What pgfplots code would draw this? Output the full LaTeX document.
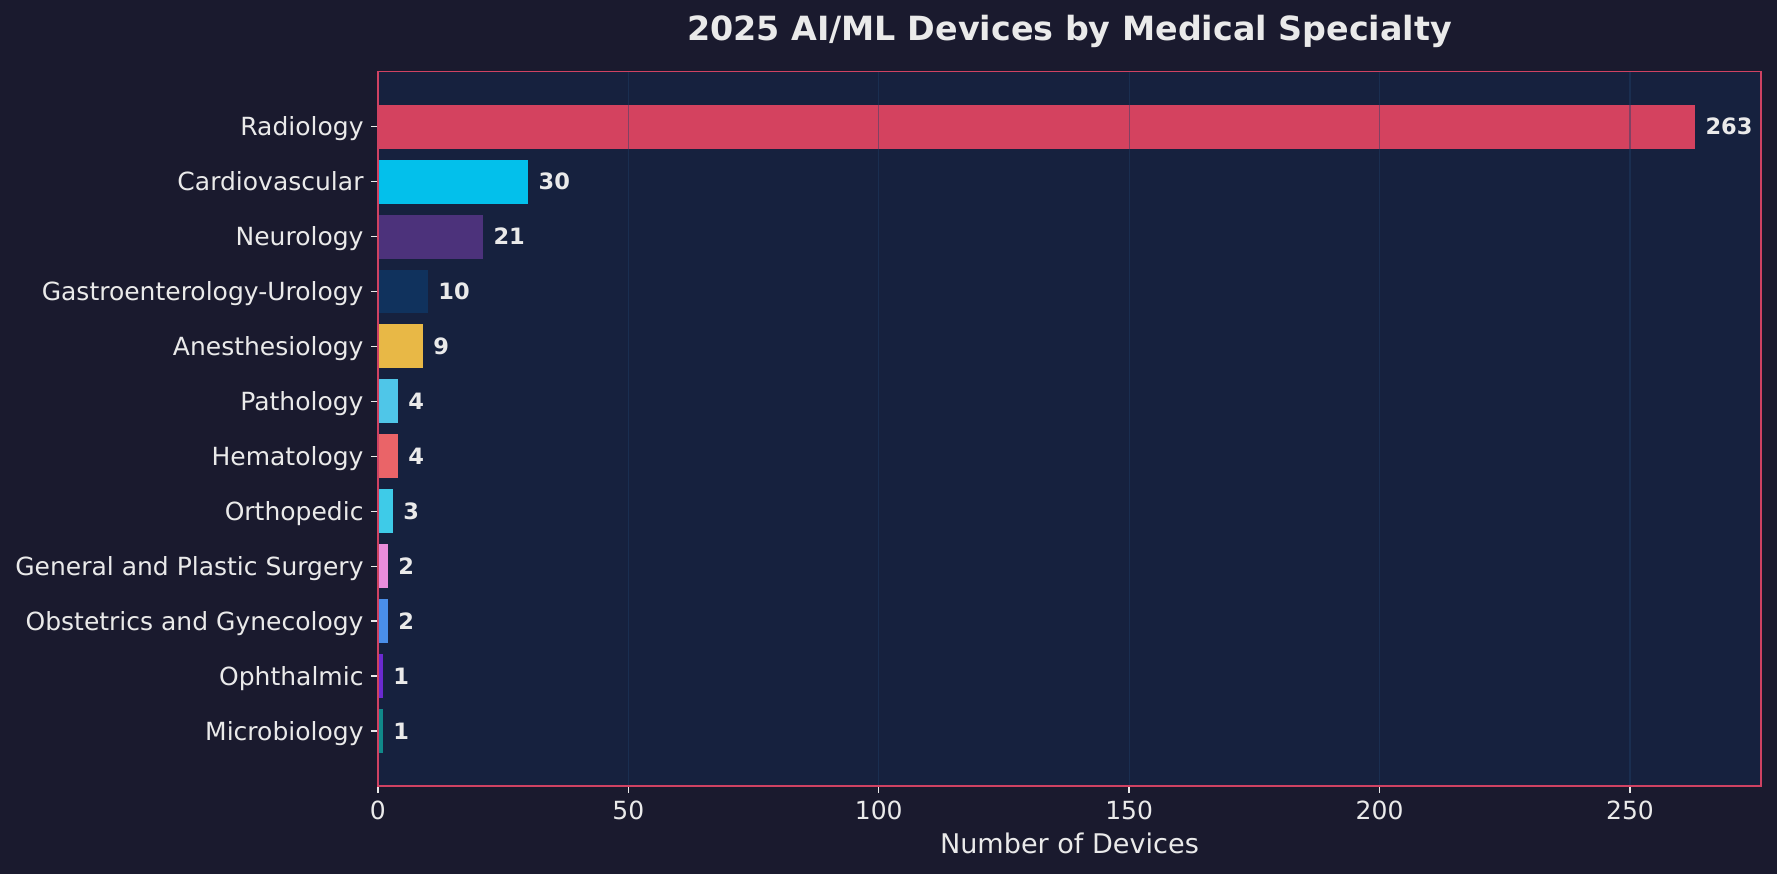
\documentclass[border=0pt]{standalone}
\usepackage{pgfplots}
\pgfplotsset{compat=1.18}
\usepackage{fontspec}
\setmainfont{DejaVu Sans}
\pgfdeclarelayer{bg}
\pgfsetlayers{bg,main}

\definecolor{figbg}{HTML}{1A1A2E}
\definecolor{axbg}{HTML}{16213E}
\definecolor{spine}{HTML}{CF4262}
\definecolor{txt}{HTML}{EAEAEA}
\definecolor{gridc}{HTML}{1F4068}
\definecolor{cRad}{HTML}{D4425F}
\definecolor{cCar}{HTML}{03C0EB}
\definecolor{cNeu}{HTML}{4C327B}
\definecolor{cGas}{HTML}{10325D}
\definecolor{cAne}{HTML}{E8B846}
\definecolor{cPat}{HTML}{4FC6E8}
\definecolor{cHem}{HTML}{EA6468}
\definecolor{cOrt}{HTML}{3ECBE8}
\definecolor{cGps}{HTML}{E88DDC}
\definecolor{cObs}{HTML}{4A8EE8}
\definecolor{cOph}{HTML}{6A2AD0}
\definecolor{cMic}{HTML}{10898A}

\begin{document}
\begin{tikzpicture}
\begin{axis}[
  scale only axis,
  width=663.8pt, height=342.9pt,
  xmin=0, xmax=276.15,
  ymin=-1, ymax=12,
  xbar, bar shift=0pt, bar width=0.8,
  axis background/.style={fill=axbg},
  axis line style={spine, line width=0.8pt},
  axis on top,
  tick align=outside, tick pos=left,
  major tick length=3.4pt,
  every tick/.style={txt, line width=0.7pt},
  xtick={0,50,100,150,200,250},
  ytick={0,...,11},
  yticklabels={Microbiology, Ophthalmic, Obstetrics and Gynecology, General and Plastic Surgery, Orthopedic, Hematology, Pathology, Anesthesiology, Gastroenterology-Urology, Neurology, Cardiovascular, Radiology},
  xmajorgrids,
  major grid style={gridc, opacity=0.45, line width=0.5pt},
  /pgf/number format/assume math mode=true,
  ticklabel style={font=\fontsize{12}{14}\selectfont, color=txt},
  yticklabel style={anchor=base east, yshift=-4.3pt},
  title={2025 AI/ML Devices by Medical Specialty},
  every axis title/.style={at={(axis description cs:0.5,1)}, anchor=base, yshift=14.9pt,
    font=\fontsize{16}{19}\selectfont\bfseries, color=txt},
  xlabel={Number of Devices},
  every axis x label/.style={at={(axis description cs:0.5,0)}, anchor=base, yshift=-32.2pt,
    font=\fontsize{13}{16}\selectfont, color=txt},
  point meta=x,
  nodes near coords,
  nodes near coords style={anchor=west, inner sep=0pt, xshift=4.8pt,
    font=\fontsize{10.8}{12}\selectfont\bfseries, color=txt},
  every axis plot/.append style={draw=none},
]
\addplot[fill=cRad] coordinates {(263,11)};
\addplot[fill=cCar] coordinates {(30,10)};
\addplot[fill=cNeu] coordinates {(21,9)};
\addplot[fill=cGas] coordinates {(10,8)};
\addplot[fill=cAne] coordinates {(9,7)};
\addplot[fill=cPat] coordinates {(4,6)};
\addplot[fill=cHem] coordinates {(4,5)};
\addplot[fill=cOrt] coordinates {(3,4)};
\addplot[fill=cGps] coordinates {(2,3)};
\addplot[fill=cObs] coordinates {(2,2)};
\addplot[fill=cOph] coordinates {(1,1)};
\addplot[fill=cMic] coordinates {(1,0)};
\coordinate (SW) at (rel axis cs:0,0);
\coordinate (NE) at (rel axis cs:1,1);
\end{axis}
\begin{pgfonlayer}{bg}
\fill[figbg] ([shift={(-181.4pt,-42.2pt)}]SW) rectangle ([shift={(7.7pt,34.4pt)}]NE);
\end{pgfonlayer}
\end{tikzpicture}
\end{document}
